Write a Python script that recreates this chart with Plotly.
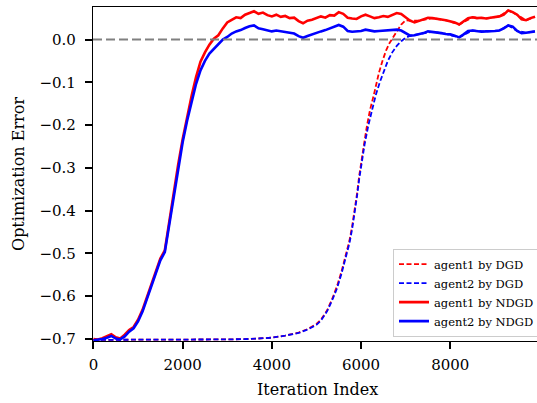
import plotly.graph_objects as go

# ---------------- data ----------------
iters_ndgd = list(range(0, 10000, 100))

agent1_ndgd = [
    -0.700, -0.701, -0.698, -0.694, -0.689, -0.696, -0.699, -0.690, -0.679, -0.672,
    -0.655, -0.632, -0.602, -0.574, -0.545, -0.512, -0.493, -0.425, -0.358, -0.292,
    -0.233, -0.180, -0.132, -0.088, -0.052, -0.030, -0.012, 0.002, 0.010, 0.026,
    0.040, 0.046, 0.052, 0.050, 0.058, 0.062, 0.066, 0.060, 0.063, 0.057,
    0.054, 0.058, 0.053, 0.055, 0.050, 0.051, 0.043, 0.038, 0.044, 0.046,
    0.050, 0.054, 0.051, 0.057, 0.056, 0.064, 0.060, 0.051, 0.049, 0.048,
    0.054, 0.058, 0.054, 0.050, 0.052, 0.055, 0.053, 0.058, 0.062, 0.060,
    0.051, 0.044, 0.040, 0.044, 0.047, 0.051, 0.050, 0.049, 0.047, 0.045,
    0.043, 0.040, 0.035, 0.042, 0.050, 0.052, 0.050, 0.051, 0.049, 0.051,
    0.053, 0.054, 0.058, 0.068, 0.064, 0.058, 0.047, 0.045, 0.050, 0.053,
]

agent2_ndgd = [
    -0.703, -0.702, -0.700, -0.697, -0.693, -0.699, -0.701, -0.694, -0.683, -0.675,
    -0.659, -0.636, -0.606, -0.578, -0.549, -0.516, -0.497, -0.430, -0.364, -0.298,
    -0.240, -0.190, -0.145, -0.104, -0.072, -0.050, -0.033, -0.022, -0.012, 0.000,
    0.006, 0.014, 0.019, 0.022, 0.027, 0.031, 0.033, 0.026, 0.024, 0.021,
    0.019, 0.021, 0.019, 0.018, 0.016, 0.014, 0.008, 0.004, 0.008, 0.012,
    0.016, 0.019, 0.022, 0.026, 0.029, 0.034, 0.030, 0.020, 0.018, 0.019,
    0.020, 0.023, 0.021, 0.019, 0.020, 0.021, 0.021, 0.023, 0.023, 0.021,
    0.014, 0.009, 0.010, 0.012, 0.015, 0.019, 0.018, 0.016, 0.015, 0.013,
    0.012, 0.009, 0.005, 0.012, 0.020, 0.021, 0.019, 0.018, 0.019, 0.019,
    0.020, 0.021, 0.026, 0.033, 0.030, 0.020, 0.015, 0.016, 0.017, 0.019,
]

iters_dgd1 = [0, 1000, 2000, 3000, 3500, 4000, 4300, 4600, 4800, 5000, 5100, 5240,
              5350, 5460, 5560, 5660, 5740, 5800, 5860, 5910, 5960, 6020, 6080, 6135,
              6200, 6290, 6400, 6480, 6560, 6640, 6700, 6800, 6900, 7000, 7100, 7300,
              7600, 7900, 8200, 8500, 8800, 9100, 9300, 9500, 9700, 9900]
agent1_dgd = [-0.702, -0.702, -0.702, -0.701, -0.700, -0.697, -0.692, -0.685, -0.677, -0.665,
              -0.655, -0.633, -0.607, -0.577, -0.543, -0.505, -0.470, -0.437, -0.400, -0.360,
              -0.318, -0.273, -0.236, -0.200, -0.165, -0.128, -0.078, -0.050, -0.026, -0.008,
              0.002, 0.020, 0.035, 0.045, 0.044, 0.044, 0.050, 0.045, 0.035, 0.052,
              0.049, 0.054, 0.068, 0.058, 0.045, 0.053]

iters_dgd2 = [0, 1000, 2000, 3000, 3500, 4000, 4300, 4600, 4800, 5000, 5100, 5240,
              5350, 5460, 5560, 5660, 5740, 5800, 5860, 5910, 5960, 6020, 6080, 6165,
              6250, 6330, 6420, 6500, 6600, 6700, 6800, 6900, 7000, 7100, 7300,
              7600, 7900, 8200, 8500, 8800, 9100, 9300, 9500, 9700, 9900]
agent2_dgd = [-0.702, -0.702, -0.702, -0.701, -0.700, -0.697, -0.692, -0.686, -0.678, -0.667,
              -0.657, -0.635, -0.610, -0.582, -0.548, -0.510, -0.476, -0.443, -0.405, -0.366,
              -0.325, -0.282, -0.245, -0.200, -0.160, -0.130, -0.100, -0.077, -0.050, -0.030,
              -0.015, -0.004, 0.004, 0.009, 0.012, 0.018, 0.013, 0.005, 0.021, 0.019,
              0.021, 0.033, 0.020, 0.016, 0.019]

x_ticks = [0, 2000, 4000, 6000, 8000]
y_ticks = [0.0, -0.1, -0.2, -0.3, -0.4, -0.5, -0.6, -0.7]

# ---------------- figure ----------------
FONT = "DejaVu Serif"
FIG_W = 560          # wider than the window: the right part is clipped, like the reference
L_MARGIN = 93
PLOT_W = FIG_W - L_MARGIN
X_PER_PX = 2000 / 89.2
X_MIN = -10
X_MAX = X_MIN + PLOT_W * X_PER_PX

fig = go.Figure()

fig.add_trace(go.Scatter(x=iters_dgd1, y=agent1_dgd, mode="lines", name="agent1 by DGD",
                         line=dict(color="red", width=1.8, dash="5px,2.5px")))
fig.add_trace(go.Scatter(x=iters_dgd2, y=agent2_dgd, mode="lines", name="agent2 by DGD",
                         line=dict(color="blue", width=1.8, dash="5px,2.5px")))
fig.add_trace(go.Scatter(x=iters_ndgd, y=agent1_ndgd, mode="lines", name="agent1 by NDGD",
                         line=dict(color="red", width=2.6)))
fig.add_trace(go.Scatter(x=iters_ndgd, y=agent2_ndgd, mode="lines", name="agent2 by NDGD",
                         line=dict(color="blue", width=2.6)))
fig.add_trace(go.Scatter(x=[X_MIN, X_MAX], y=[0, 0], mode="lines", showlegend=False,
                         line=dict(color="gray", width=2, dash="9px,4px"),
                         hoverinfo="skip"))

fig.update_layout(
    width=FIG_W, height=403,
    margin=dict(l=L_MARGIN, r=0, t=7, b=62),
    paper_bgcolor="white", plot_bgcolor="white",
    font=dict(family=FONT, size=15, color="black"),
    showlegend=True,
    legend=dict(x=(393 - L_MARGIN) / PLOT_W, y=0.013, xanchor="left", yanchor="bottom",
                bgcolor="rgba(255,255,255,0.85)", bordercolor="#cccccc", borderwidth=1,
                font=dict(family=FONT, size=11.5), itemwidth=30, tracegroupgap=0),
)
fig.update_xaxes(range=[X_MIN, X_MAX], tickvals=x_ticks, tickformat="d", automargin=False,
                 showgrid=False, zeroline=False, showline=True, linecolor="black",
                 linewidth=1.2, mirror=True, ticks="outside", ticklen=7, tickwidth=1.5,
                 tickcolor="black", ticklabelstandoff=3,
                 title=dict(text="Iteration Index", font=dict(family=FONT, size=16),
                            standoff=16))
fig.update_yaxes(range=[-0.7047, 0.076], tickvals=y_ticks, tickformat=".1f", automargin=False,
                 showgrid=False, zeroline=False, showline=True, linecolor="black",
                 linewidth=1.2, mirror=True, ticks="outside", ticklen=7, tickwidth=1.5,
                 tickcolor="black", ticklabelstandoff=6,
                 title=dict(text="Optimization Error", font=dict(family=FONT, size=16),
                            standoff=10))

# The x-axis title is centred on the visible part of the plot (0..537 px window)
fig.update_xaxes(title=dict(text=""))
fig.add_annotation(text="Iteration Index", xref="paper", yref="paper",
                   x=(317 - L_MARGIN) / PLOT_W, y=-0.145, xanchor="center", yanchor="middle",
                   showarrow=False, font=dict(family=FONT, size=16, color="black"))

fig.write_html("out.html", config={"displayModeBar": False},
               post_script="document.body.style.margin='0';document.body.style.overflow='hidden';")
